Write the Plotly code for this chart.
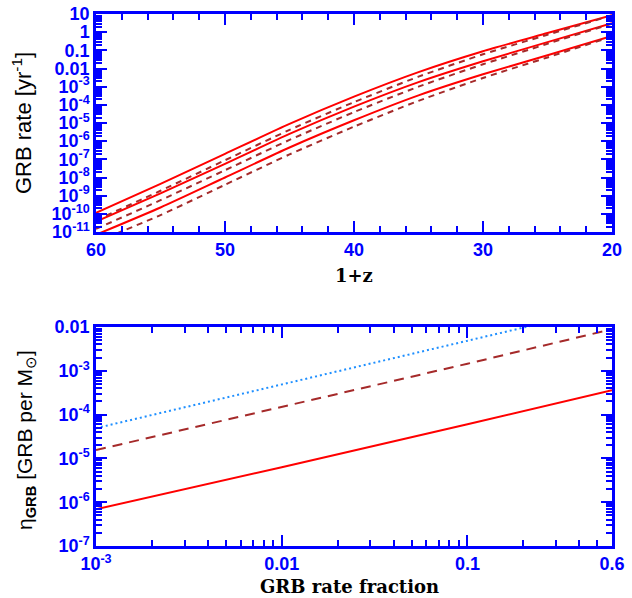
import numpy as np
import plotly.graph_objects as go

# ---------------- data: top panel (GRB rate vs 1+z) ----------------
one_plus_z = [60, 55, 50, 45, 40, 35, 30, 25, 20]
rate_solid_hi = [1.12e-10, 4.47e-9, 2.00e-7, 8.91e-6, 2.82e-4, 6.31e-3, 8.91e-2, 8.91e-1, 8.71]
rate_solid_mid = [3.72e-11, 1.35e-9, 5.62e-8, 2.51e-6, 7.94e-5, 1.78e-3, 2.51e-2, 2.82e-1, 3.09]
rate_solid_lo = [7.08e-12, 2.24e-10, 1.00e-8, 4.47e-7, 1.41e-5, 3.31e-4, 4.79e-3, 5.37e-2, 6.17e-1]
rate_dash_hi = [4.47e-11, 1.86e-9, 8.91e-8, 4.17e-6, 1.41e-4, 3.55e-3, 6.03e-2, 7.24e-1, 8.32]
rate_dash_mid = [1.48e-11, 5.62e-10, 2.51e-8, 1.17e-6, 3.98e-5, 1.00e-3, 1.70e-2, 2.29e-1, 2.95]
rate_dash_lo = [2.82e-12, 8.51e-11, 3.98e-9, 1.86e-7, 6.31e-6, 1.66e-4, 3.02e-3, 4.07e-2, 5.75e-1]

top_yticks = [10, 1, 0.1, 0.01, 1e-3, 1e-4, 1e-5, 1e-6, 1e-7, 1e-8, 1e-9, 1e-10, 1e-11]
top_yticktext = ["10", "1", "0.1", "0.01", "10<sup>-3</sup>", "10<sup>-4</sup>", "10<sup>-5</sup>",
                 "10<sup>-6</sup>", "10<sup>-7</sup>", "10<sup>-8</sup>", "10<sup>-9</sup>",
                 "10<sup>-10</sup>", "10<sup>-11</sup>"]
top_xticks = [60, 50, 40, 30, 20]

# ---------------- data: bottom panel (eta_GRB vs rate fraction) ----------------
rate_fraction = [1e-3, 0.01, 0.1, 0.6]
eta_solid = [6.9e-7, 6.3e-6, 6.0e-5, 3.6e-4]
eta_dash = [1.55e-5, 1.5e-4, 1.45e-3, 8.9e-3]
eta_dot = [4.9e-5, 4.9e-4, 4.9e-3, 2.9e-2]

bot_xticks = [1e-3, 0.01, 0.1, 0.6]
bot_xticktext = ["10<sup>-3</sup>", "0.01", "0.1", "0.6"]
bot_yticks = [1e-7, 1e-6, 1e-5, 1e-4, 1e-3, 0.01]
bot_yticktext = ["10<sup>-7</sup>", "10<sup>-6</sup>", "10<sup>-5</sup>", "10<sup>-4</sup>",
                 "10<sup>-3</sup>", "0.01"]

BLUE = "#0000ff"
RED = "#ff0000"
BROWN = "#a52a2a"
DOTBLUE = "#1e8fff"


def log_minor(lo_exp, hi_exp, hi_val=None):
    vals = []
    for e in range(lo_exp, hi_exp):
        for m in range(2, 10):
            v = m * 10.0 ** e
            if hi_val is None or v <= hi_val:
                vals.append(v)
    return vals


def bold(lst):
    return ["<b>" + str(s) + "</b>" for s in lst]


fig = go.Figure()

# top traces
for ys in [rate_solid_hi, rate_solid_mid, rate_solid_lo]:
    fig.add_trace(go.Scatter(x=one_plus_z, y=ys, mode="lines", xaxis="x", yaxis="y",
                             line=dict(color=RED, width=2, shape="spline", smoothing=0.6),
                             showlegend=False))
for ys in [rate_dash_hi, rate_dash_mid, rate_dash_lo]:
    fig.add_trace(go.Scatter(x=one_plus_z, y=ys, mode="lines", xaxis="x", yaxis="y",
                             line=dict(color=BROWN, width=2, dash="6px,5px", shape="spline", smoothing=0.6),
                             showlegend=False))

# bottom traces
fig.add_trace(go.Scatter(x=rate_fraction, y=eta_dot, mode="lines", xaxis="x2", yaxis="y2",
                         line=dict(color=DOTBLUE, width=2, dash="2px,3px"), showlegend=False))
fig.add_trace(go.Scatter(x=rate_fraction, y=eta_dash, mode="lines", xaxis="x2", yaxis="y2",
                         line=dict(color=BROWN, width=2, dash="10px,7px"), showlegend=False))
fig.add_trace(go.Scatter(x=rate_fraction, y=eta_solid, mode="lines", xaxis="x2", yaxis="y2",
                         line=dict(color=RED, width=2), showlegend=False))

W, H = 632, 598
xdom = [96 / W, 612 / W]
top_dom = [1 - 232 / H, 1 - 14 / H]
bot_dom = [1 - 546 / H, 1 - 327 / H]

tickfont = dict(family="Liberation Sans, Arial, sans-serif", size=18, color=BLUE)
axis_common = dict(showline=True, linecolor=BLUE, linewidth=2.5, mirror="allticks",
                   ticks="inside", ticklen=11, tickwidth=2, tickcolor=BLUE,
                   showgrid=False, zeroline=False, tickfont=tickfont, automargin=False)

fig.update_layout(
    width=W, height=H,
    margin=dict(l=0, r=0, t=0, b=0),
    plot_bgcolor="white", paper_bgcolor="white",
    xaxis=dict(domain=xdom, anchor="y", range=[60, 20], tickmode="array",
               tickvals=top_xticks, ticktext=bold(top_xticks),
               minor=dict(tickmode="linear", tick0=0, dtick=2, ticks="inside",
                          ticklen=6, tickwidth=1.5, tickcolor=BLUE),
               **axis_common),
    yaxis=dict(domain=top_dom, anchor="x", type="log", range=[-11, 1], tickmode="array",
               tickvals=top_yticks, ticktext=bold(top_yticktext),
               minor=dict(tickmode="array", tickvals=log_minor(-11, 1), ticks="inside",
                          ticklen=6, tickwidth=1.5, tickcolor=BLUE),
               **axis_common),
    xaxis2=dict(domain=xdom, anchor="y2", type="log", range=[-3, np.log10(0.6)], tickmode="array",
                tickvals=bot_xticks, ticktext=bold(bot_xticktext),
                minor=dict(tickmode="array", tickvals=log_minor(-3, 0, 0.59), ticks="inside",
                           ticklen=6, tickwidth=1.5, tickcolor=BLUE),
                **axis_common),
    yaxis2=dict(domain=bot_dom, anchor="x2", type="log", range=[-7, -2], tickmode="array",
                tickvals=bot_yticks, ticktext=bold(bot_yticktext),
                minor=dict(tickmode="array", tickvals=log_minor(-7, -2), ticks="inside",
                           ticklen=6, tickwidth=1.5, tickcolor=BLUE),
                **axis_common),
)

title_sans = dict(family="Liberation Sans, Arial, sans-serif", size=22, color="black")
title_sans2 = dict(family="Liberation Sans, Arial, sans-serif", size=21, color="black")
title_serif = dict(family="DejaVu Serif, Liberation Serif, serif", size=18, color="black")

fig.add_annotation(text="<b>1+z</b>", x=354 / W, y=1 - 275 / H, xref="paper", yref="paper",
                   showarrow=False, font=title_serif, xanchor="center", yanchor="middle")
fig.add_annotation(text="<b>GRB rate fraction</b>", x=350 / W, y=1 - 586 / H, xref="paper", yref="paper",
                   showarrow=False, font=title_serif, xanchor="center", yanchor="middle")
fig.add_annotation(text="GRB rate [yr<sup>-1</sup>]", x=22 / W, y=1 - 123 / H, xref="paper", yref="paper",
                   showarrow=False, font=title_sans, textangle=-90, xanchor="center", yanchor="middle")
fig.add_annotation(text="η<sub><b>GRB</b></sub> [GRB per M<sub>⊙</sub>]", x=26 / W, y=1 - 440 / H,
                   xref="paper", yref="paper", showarrow=False, font=title_sans2, textangle=-90,
                   xanchor="center", yanchor="middle")

fig.write_html("out.html", config={"displayModeBar": False},
               post_script="document.body.style.margin='0';document.body.style.overflow='hidden';")
